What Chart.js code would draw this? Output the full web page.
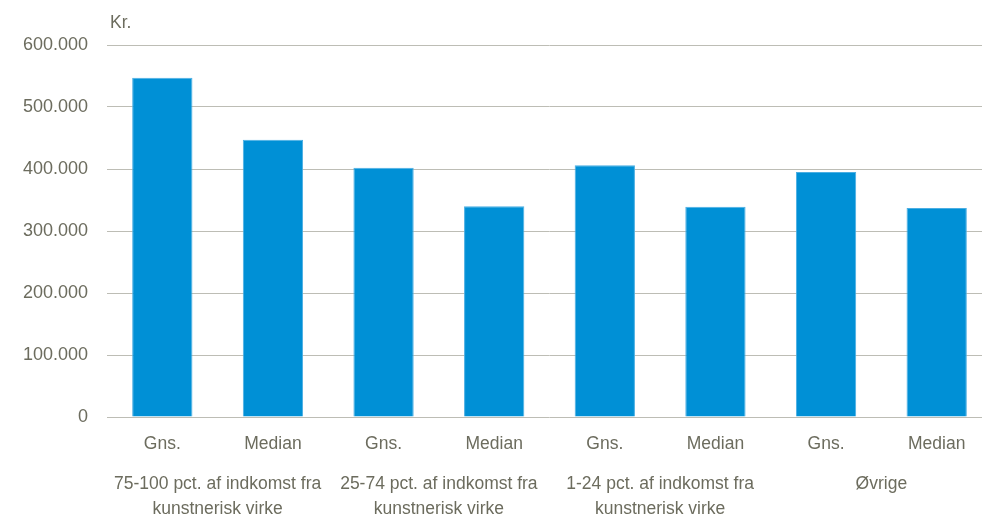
<!DOCTYPE html>
<html>
<head>
<meta charset="utf-8">
<script src="https://cdn.jsdelivr.net/npm/chart.js@4"></script>
<style>
  html, body { margin: 0; padding: 0; overflow: hidden; background: #ffffff; }
  #wrap { position: relative; width: 992px; height: 515px; }
</style>
</head>
<body>
<div id="wrap"><canvas id="c"></canvas></div>
<script>
// ---- data ----
const categories = ['Gns.', 'Median', 'Gns.', 'Median', 'Gns.', 'Median', 'Gns.', 'Median'];
const groups = [
  ['75-100 pct. af indkomst fra', 'kunstnerisk virke'],
  ['25-74 pct. af indkomst fra', 'kunstnerisk virke'],
  ['1-24 pct. af indkomst fra', 'kunstnerisk virke'],
  'Øvrige'
];
const values = [547000, 447000, 402000, 340000, 406000, 339000, 395000, 337000];
const yTicks = [0, 100000, 200000, 300000, 400000, 500000, 600000];
const unitLabel = 'Kr.';

const textColor = '#6c6c5e';
const gridColor = '#bdbdb5';
const barColor = '#0090d6';
const fontFamily = '"Liberation Sans", Arial, sans-serif';

function fmt(v) {
  return String(v).replace(/\B(?=(\d{3})+(?!\d))/g, '.');
}

const unitPlugin = {
  id: 'unitLabel',
  afterDraw(chart) {
    const ctx = chart.ctx;
    const a = chart.chartArea;
    ctx.save();
    ctx.font = '17.5px ' + fontFamily;
    ctx.fillStyle = textColor;
    ctx.textAlign = 'left';
    ctx.textBaseline = 'middle';
    ctx.fillText(unitLabel, a.left + 3, a.top - 22);
    ctx.restore();
  }
};

new Chart(document.getElementById('c'), {
  type: 'bar',
  data: {
    labels: categories,
    datasets: [{
      data: values,
      backgroundColor: barColor,
      borderColor: '#4aaee3',
      borderWidth: { top: 1, left: 1, right: 1, bottom: 0 },
      borderSkipped: 'bottom',
      categoryPercentage: 1.0,
      barPercentage: 0.545,
      xAxisID: 'x',
      yAxisID: 'y'
    }]
  },
  plugins: [unitPlugin],
  options: {
    responsive: true,
    maintainAspectRatio: false,
    animation: false,
    layout: { padding: { top: 45, right: 0, bottom: 0, left: 0 } },
    plugins: {
      legend: { display: false },
      tooltip: { enabled: false }
    },
    scales: {
      y: {
        min: 0,
        max: 600000,
        afterBuildTicks(scale) { scale.ticks = yTicks.map(v => ({ value: v })); },
        afterFit(scale) { scale.width = 107; },
        ticks: {
          callback: (v) => fmt(v),
          color: textColor,
          font: { family: fontFamily, size: 18 },
          padding: 19
        },
        grid: { color: gridColor, lineWidth: 1, drawTicks: false },
        border: { display: false }
      },
      x: {
        position: 'bottom',
        weight: 0,
        afterFit(scale) { scale.height = 40; },
        ticks: {
          color: textColor,
          font: { family: fontFamily, size: 17.5 },
          padding: 17,
          maxRotation: 0,
          autoSkip: false
        },
        grid: { display: false, drawTicks: false },
        border: { display: false }
      },
      x2: {
        type: 'category',
        position: 'bottom',
        weight: 1,
        labels: groups,
        offset: true,
        afterFit(scale) { scale.height = 58; },
        ticks: {
          color: textColor,
          font: { family: fontFamily, size: 17.5, lineHeight: 1.43 },
          padding: 15,
          maxRotation: 0,
          autoSkip: false
        },
        grid: { display: false, drawTicks: false },
        border: { display: false }
      }
    }
  }
});
</script>
</body>
</html>
